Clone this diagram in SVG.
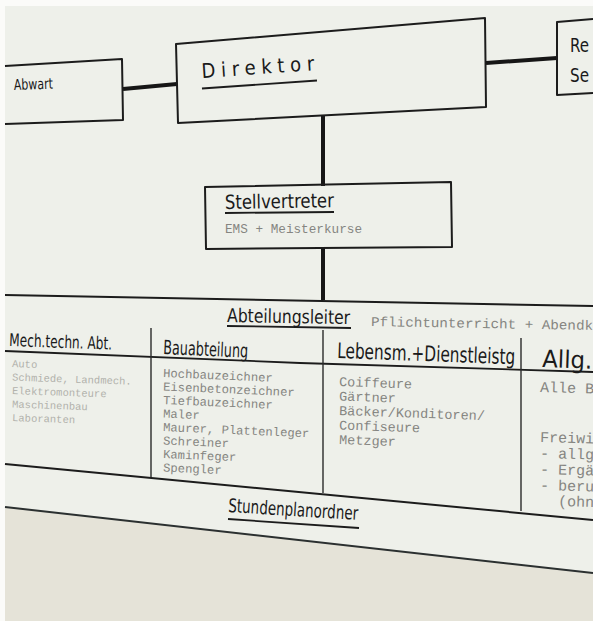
<svg xmlns="http://www.w3.org/2000/svg" width="593" height="621" viewBox="0 0 593 621">
<style>
.box{fill:none;stroke:#1c1c1c;stroke-width:2;stroke-linejoin:round}
.ln{fill:none;stroke:#1c1c1c;stroke-width:1.8}
.dv{fill:none;stroke:#2a2a2a;stroke-width:1.4}
.con{fill:none;stroke:#161616;stroke-width:4}
.hd{font-family:"DejaVu Sans","Liberation Sans",sans-serif;font-stretch:condensed;fill:#1a1a1a}
.it{font-family:"Liberation Mono","DejaVu Sans Mono",monospace;fill:#858581}
.fd{font-family:"Liberation Mono","DejaVu Sans Mono",monospace;fill:#b2b2ac}
</style>
<rect width="593" height="621" fill="#fbfbf9"/>
<polygon points="5,6 593,6 593,573 5,507" fill="#eef0ea"/>
<polygon points="5,507 593,573 593,621 5,621" fill="#e5e3d8"/>
<line x1="5" y1="507" x2="593" y2="573" stroke="#2b3030" stroke-width="2"/>

<g id="connectors">
<line class="con" x1="123" y1="89" x2="177" y2="84"/>
<line class="con" x1="486" y1="63" x2="557" y2="58"/>
<line class="con" x1="323" y1="115" x2="323" y2="186"/>
<line class="con" x1="323" y1="248" x2="323" y2="300"/>
</g>

<g id="abwart">
<polyline class="box" points="5,66 122,59 123,120 5,124"/>
<text class="hd" x="14" y="90" font-size="15" textLength="39" lengthAdjust="spacingAndGlyphs" transform="rotate(-2 14 90)">Abwart</text>
</g>

<g id="direktor">
<polygon class="box" points="176,44 485,18 486,107 178,123"/>
<text class="hd" x="202" y="78" font-size="20" textLength="113" lengthAdjust="spacing" transform="rotate(-4 202 78)">Direktor</text>
<line class="ln" x1="202" y1="88.5" x2="317" y2="80.5"/>
</g>

<g id="re-se">
<polyline class="box" points="593,19 557,22 557,95 593,93"/>
<text class="hd" x="570" y="52" font-size="20" textLength="19" lengthAdjust="spacingAndGlyphs">Re</text>
<text class="hd" x="570" y="82" font-size="20" textLength="19" lengthAdjust="spacingAndGlyphs">Se</text>
</g>

<g id="stellvertreter">
<polygon class="box" points="205,187 451,182 452,247 206,249"/>
<text class="hd" x="225" y="209" font-size="19.5" textLength="109" lengthAdjust="spacingAndGlyphs" transform="rotate(-1 225 209)">Stellvertreter</text>
<line class="ln" x1="225" y1="213" x2="334" y2="212"/>
<text class="it" x="225" y="233" font-size="12.5" textLength="137" lengthAdjust="spacingAndGlyphs">EMS + Meisterkurse</text>
</g>

<g id="abteilungsleiter">
<line class="box" x1="5" y1="295" x2="593" y2="306"/>
<text class="hd" x="227" y="322" font-size="19" textLength="123" lengthAdjust="spacingAndGlyphs" transform="rotate(1 227 322)">Abteilungsleiter</text>
<line class="ln" x1="227" y1="326" x2="351" y2="328"/>
<text class="it" x="371" y="326" font-size="13.5" textLength="222" lengthAdjust="spacingAndGlyphs" transform="rotate(1 371 326)">Pflichtunterricht + Abendk</text>
<polyline class="ln" points="5,351 300,363 593,372"/>
<line class="dv" x1="151" y1="328" x2="151" y2="478"/>
<line class="dv" x1="323" y1="330" x2="323" y2="493"/>
<line class="dv" x1="521" y1="338" x2="521" y2="511"/>
<line class="box" x1="5" y1="464" x2="593" y2="520"/>
</g>

<g id="mech">
<text class="hd" x="9" y="346" font-size="17.5" textLength="103" lengthAdjust="spacingAndGlyphs" transform="rotate(2 9 346)">Mech.techn. Abt.</text>
<text class="fd" font-size="10.5" x="12" y="367" transform="rotate(2 12 367)">Auto</text>
<text class="fd" font-size="10.5" x="12" y="380.5" transform="rotate(2 12 380.5)">Schmiede, Landmech.</text>
<text class="fd" font-size="10.5" x="12" y="394" transform="rotate(2 12 394)">Elektromonteure</text>
<text class="fd" font-size="10.5" x="12" y="407.5" transform="rotate(2 12 407.5)">Maschinenbau</text>
<text class="fd" font-size="10.5" x="12" y="421" transform="rotate(2 12 421)">Laboranten</text>
</g>

<g id="bau">
<text class="hd" x="163" y="354" font-size="19.5" textLength="85" lengthAdjust="spacingAndGlyphs" transform="rotate(2.5 163 354)">Bauabteilung</text>
<text class="it" font-size="12.2" x="163" y="377" transform="rotate(2.5 163 377)">Hochbauzeichner</text>
<text class="it" font-size="12.2" x="163" y="390.5" transform="rotate(2.5 163 390.5)">Eisenbetonzeichner</text>
<text class="it" font-size="12.2" x="163" y="404" transform="rotate(2.5 163 404)">Tiefbauzeichner</text>
<text class="it" font-size="12.2" x="163" y="417.5" transform="rotate(2.5 163 417.5)">Maler</text>
<text class="it" font-size="12.2" x="163" y="431" transform="rotate(2.5 163 431)">Maurer, Plattenleger</text>
<text class="it" font-size="12.2" x="163" y="444.5" transform="rotate(2.5 163 444.5)">Schreiner</text>
<text class="it" font-size="12.2" x="163" y="458" transform="rotate(2.5 163 458)">Kaminfeger</text>
<text class="it" font-size="12.2" x="163" y="471.5" transform="rotate(2.5 163 471.5)">Spengler</text>
</g>

<g id="lebensm">
<text class="hd" x="337" y="358" font-size="21.5" textLength="178" lengthAdjust="spacingAndGlyphs" transform="rotate(2 337 358)">Lebensm.+Dienstleistg</text>
<text class="it" font-size="13.5" x="339" y="386" transform="rotate(2 339 386)">Coiffeure</text>
<text class="it" font-size="13.5" x="339" y="400.5" transform="rotate(2 339 400.5)">Gärtner</text>
<text class="it" font-size="13.5" x="339" y="415" transform="rotate(2 339 415)">Bäcker/Konditoren/</text>
<text class="it" font-size="13.5" x="339" y="429.5" transform="rotate(2 339 429.5)">Confiseure</text>
<text class="it" font-size="13.5" x="339" y="444" transform="rotate(2 339 444)">Metzger</text>
</g>

<g id="allg">
<text class="hd" x="542" y="367" font-size="24" textLength="50" lengthAdjust="spacingAndGlyphs" transform="rotate(2 542 367)">Allg.</text>
<text class="it" font-size="15" x="540" y="392" transform="rotate(1.5 540 392)">Alle B</text>
<text class="it" font-size="15" x="540" y="442" transform="rotate(1.5 540 442)">Freiwi</text>
<text class="it" font-size="15" x="540" y="458" transform="rotate(1.5 540 458)">- allg</text>
<text class="it" font-size="15" x="540" y="474" transform="rotate(1.5 540 474)">- Ergä</text>
<text class="it" font-size="15" x="540" y="490" transform="rotate(1.5 540 490)">- beru</text>
<text class="it" font-size="15" x="558" y="506" transform="rotate(1.5 558 506)">(ohn</text>
</g>

<g id="stundenplanordner">
<text class="hd" x="228" y="512" font-size="19" textLength="130" lengthAdjust="spacingAndGlyphs" transform="rotate(3.5 228 512)">Stundenplanordner</text>
<line class="ln" x1="228" y1="519" x2="359" y2="528"/>
</g>
</svg>
